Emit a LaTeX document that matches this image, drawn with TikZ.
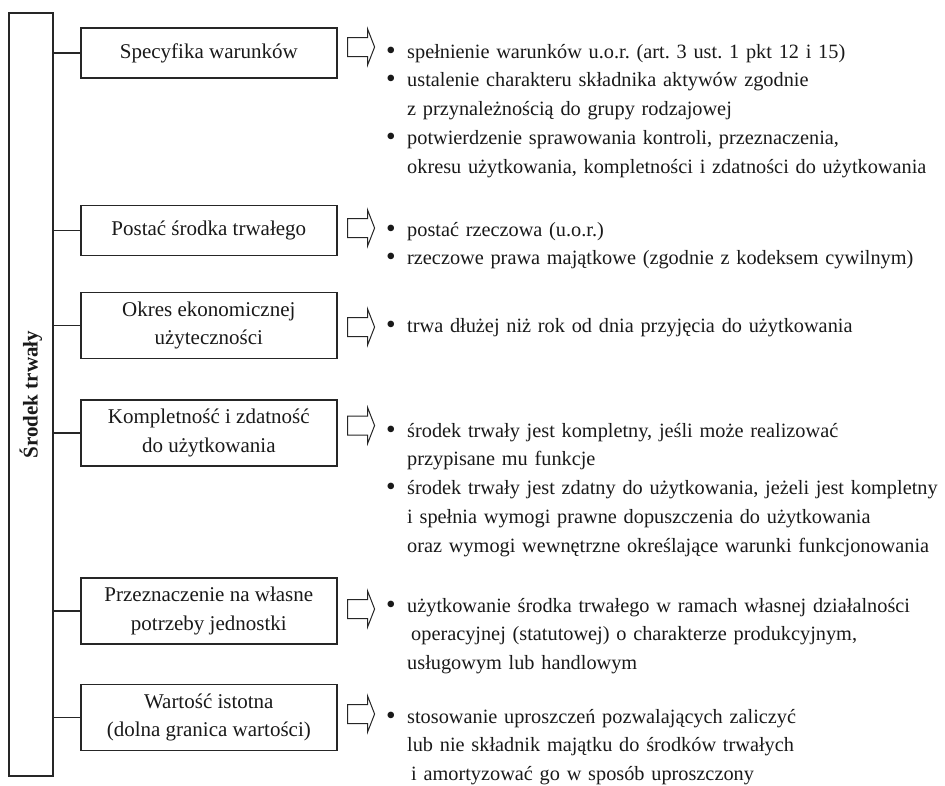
\documentclass[tikz,border=0pt]{standalone}
\usepackage{fontspec}
\setmainfont{Liberation Serif}
\usetikzlibrary{positioning}
\newcommand{\rozmiar}{\fontsize{21}{28.75}\selectfont\frenchspacing}
\tikzset{
	box/.style={
		rectangle,
		draw=black!85,
		line width=1.6pt,
		align=center,
		minimum width=256pt,
		minimum height=50pt,
		inner ysep=9pt,
		anchor=west
	},
	bar/.style={
		rectangle,
		draw=black!85,
		line width=1.6pt,
		minimum width=44pt,
		minimum height=763pt,
		inner sep=0pt,
		font=\rozmiar\bfseries
	},
	list/.style={
		anchor=base west,
		align=left,
		text width=620pt,
		inner sep=0pt,
		font=\fontsize{20.3}{28.75}\selectfont\frenchspacing
	},
	link/.style={
		draw=black!85,
		line width=1.6pt
	},
	pics/openarrow/.style={code={
		\draw[line width=1pt, draw=black!85, fill=white]
			(10,-9.5) -- (30,-9.5) -- (30,-18) -- (37,0) -- (30,18) -- (30,9.5) -- (10,9.5) -- cycle;
	}}
}
\newcommand{\pkt}{\makebox[21pt][l]{\raisebox{-1.2pt}{\scalebox{1.35}{\textbullet}}}}
\newcommand{\dal}{\hspace*{21pt}}

\begin{document}
\begin{tikzpicture}[x=1pt, y=-1pt, font=\rozmiar, color=black!90]
\useasboundingbox (0,0) rectangle (945,785);

\node [bar] (srodek) at (31,394.5) {\rotatebox{90}{Środek trwały}};

\node [box] (spec) at (80,53) {Specyfika warunków};
\node [box] (postac) at (80,230.5) {Postać środka trwałego};
\node [box] (okres) at (80,325.5) {Okres ekonomicznej\\użyteczności};
\node [box] (kompl) at (80,433) {Kompletność i zdatność\\do użytkowania};
\node [box] (przezn) at (80,611) {Przeznaczenie na własne\\potrzeby jednostki};
\node [box] (wartosc) at (80,717.5) {Wartość istotna\\(dolna granica wartości)};

\foreach \b in {spec,postac,okres,kompl,przezn,wartosc}
	\draw [link] (srodek.east |- \b.west) -- (\b.west);

\pic at ([yshift=6pt]spec.east) {openarrow};
\pic at ([yshift=2.5pt]postac.east) {openarrow};
\pic at ([yshift=-1.5pt]okres.east) {openarrow};
\pic at ([yshift=7.5pt]kompl.east) {openarrow};
\pic at ([yshift=2pt]przezn.east) {openarrow};
\pic at ([yshift=3.5pt]wartosc.east) {openarrow};

\node [list] (lspec) at (386,58) {%
\pkt spełnienie warunków u.o.r. (art. 3 ust. 1 pkt 12 i 15)\\
\pkt ustalenie charakteru składnika aktywów zgodnie\\
\dal z przynależnością do grupy rodzajowej\\
\pkt potwierdzenie sprawowania kontroli, przeznaczenia,\\
\dal okresu użytkowania, kompletności i zdatności do użytkowania};
\node [list] (lpostac) at (386,236) {%
\pkt postać rzeczowa (u.o.r.)\\
\pkt rzeczowe prawa majątkowe (zgodnie z kodeksem cywilnym)};
\node [list] (lokres) at (386,332) {%
\pkt trwa dłużej niż rok od dnia przyjęcia do użytkowania};
\node [list] (lkompl) at (386,437) {%
\pkt środek trwały jest kompletny, jeśli może realizować\\
\dal przypisane mu funkcje\\
\pkt środek trwały jest zdatny do użytkowania, jeżeli jest kompletny\\
\dal i spełnia wymogi prawne dopuszczenia do użytkowania\\
\dal oraz wymogi wewnętrzne określające warunki funkcjonowania};
\node [list] (lprzezn) at (386,612) {%
\pkt użytkowanie środka trwałego w ramach własnej działalności\\
\dal\hspace*{4pt}operacyjnej (statutowej) o charakterze produkcyjnym,\\
\dal usługowym lub handlowym};
\node [list] (lwartosc) at (386,723) {%
\pkt stosowanie uproszczeń pozwalających zaliczyć\\
\dal lub nie składnik majątku do środków trwałych\\
\dal\hspace*{4pt}i amortyzować go w sposób uproszczony};
\end{tikzpicture}
\end{document}
